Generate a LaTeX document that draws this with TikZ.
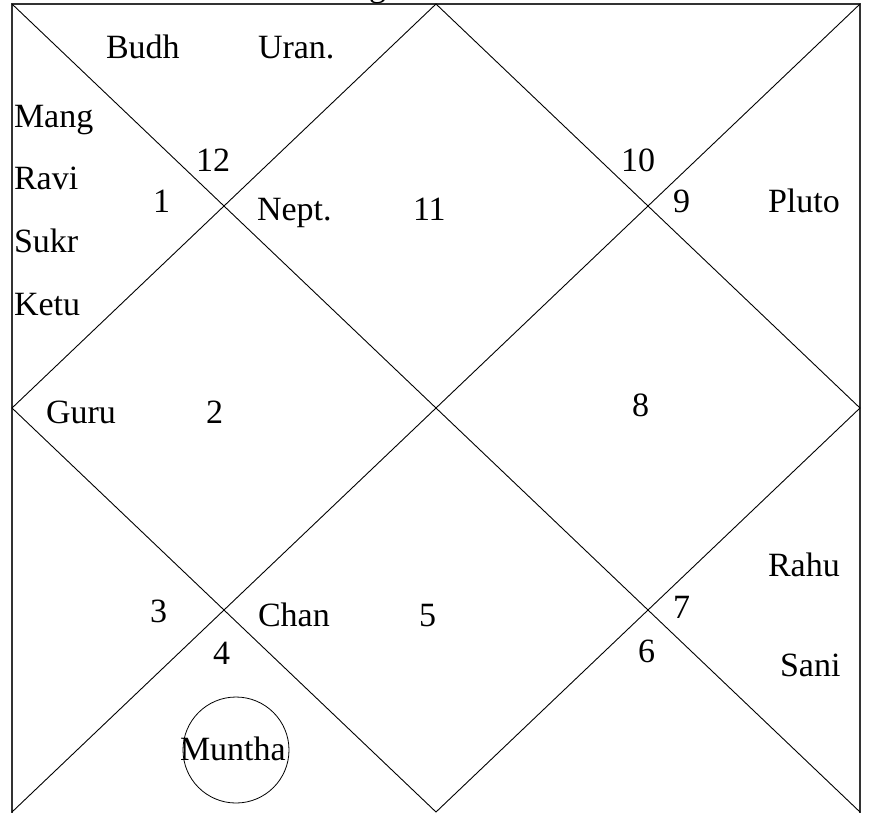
\documentclass[tikz,border=0pt]{standalone}
\usepackage{fontspec}
\setmainfont{Liberation Serif}
\begin{document}
\begin{tikzpicture}[x=1pt,y=-1pt,
  lbl/.style={anchor=base west,inner sep=0pt,outer sep=0pt,font=\fontsize{34}{40}\selectfont},
  frame/.style={draw=black!80,line width=1.8pt},
  diag/.style={draw=black,line width=0.9pt}]
\useasboundingbox (0,0) rectangle (874,812);
\clip (0,0) rectangle (874,812);
\coordinate (tl) at (12,4);
\coordinate (tr) at (860,4);
\coordinate (bl) at (12,812);
\coordinate (br) at (860,812);
\coordinate (fbl) at (12,816);
\coordinate (fbr) at (860,816);
\coordinate (tm) at (436,4);
\coordinate (rm) at (860,408);
\coordinate (bm) at (436,812);
\coordinate (lm) at (12,408);
% frame (bottom edge lies just below the picture)
\draw[frame] (tl) -- (tr) -- (fbr) -- (fbl) -- cycle;
% diagonals
\draw[diag] (tl) -- (br);
\draw[diag] (tr) -- (bl);
% inner diamond
\draw[diag] (tm) -- (rm) -- (bm) -- (lm) -- cycle;
% cut-off title
\node[lbl] (title) at (369,-4) {g};
% house numbers
\node[lbl] (h1) at (153,212) {1};
\node[lbl] (h12) at (196,171) {12};
\node[lbl] (h11) at (413,220) {11};
\node[lbl] (h10) at (621,171) {10};
\node[lbl] (h9) at (673,212) {9};
\node[lbl] (h8) at (632,416) {8};
\node[lbl] (h2) at (206,423) {2};
\node[lbl] (h3) at (150,622) {3};
\node[lbl] (h4) at (213,664) {4};
\node[lbl] (h5) at (419,626) {5};
\node[lbl] (h7) at (673,618) {7};
\node[lbl] (h6) at (638,662) {6};
% planets
\node[lbl] (budh) at (106,58) {Budh};
\node[lbl] (uran) at (258,58) {Uran.};
\node[lbl] (mang) at (14,127) {Mang};
\node[lbl] (ravi) at (14,189) {Ravi};
\node[lbl] (sukr) at (14,252) {Sukr};
\node[lbl] (ketu) at (14,315) {Ketu};
\node[lbl] (nept) at (257,220) {Nept.};
\node[lbl] (pluto) at (768,212) {Pluto};
\node[lbl] (guru) at (46,423) {Guru};
\node[lbl] (chan) at (258,626) {Chan};
\node[lbl] (rahu) at (768,576) {Rahu};
\node[lbl] (sani) at (780,676) {Sani};
\node[lbl] (muntha) at (180,760) {Muntha};
\draw[diag,line width=0.8pt] (236,750) circle[radius=53];
\end{tikzpicture}
\end{document}
